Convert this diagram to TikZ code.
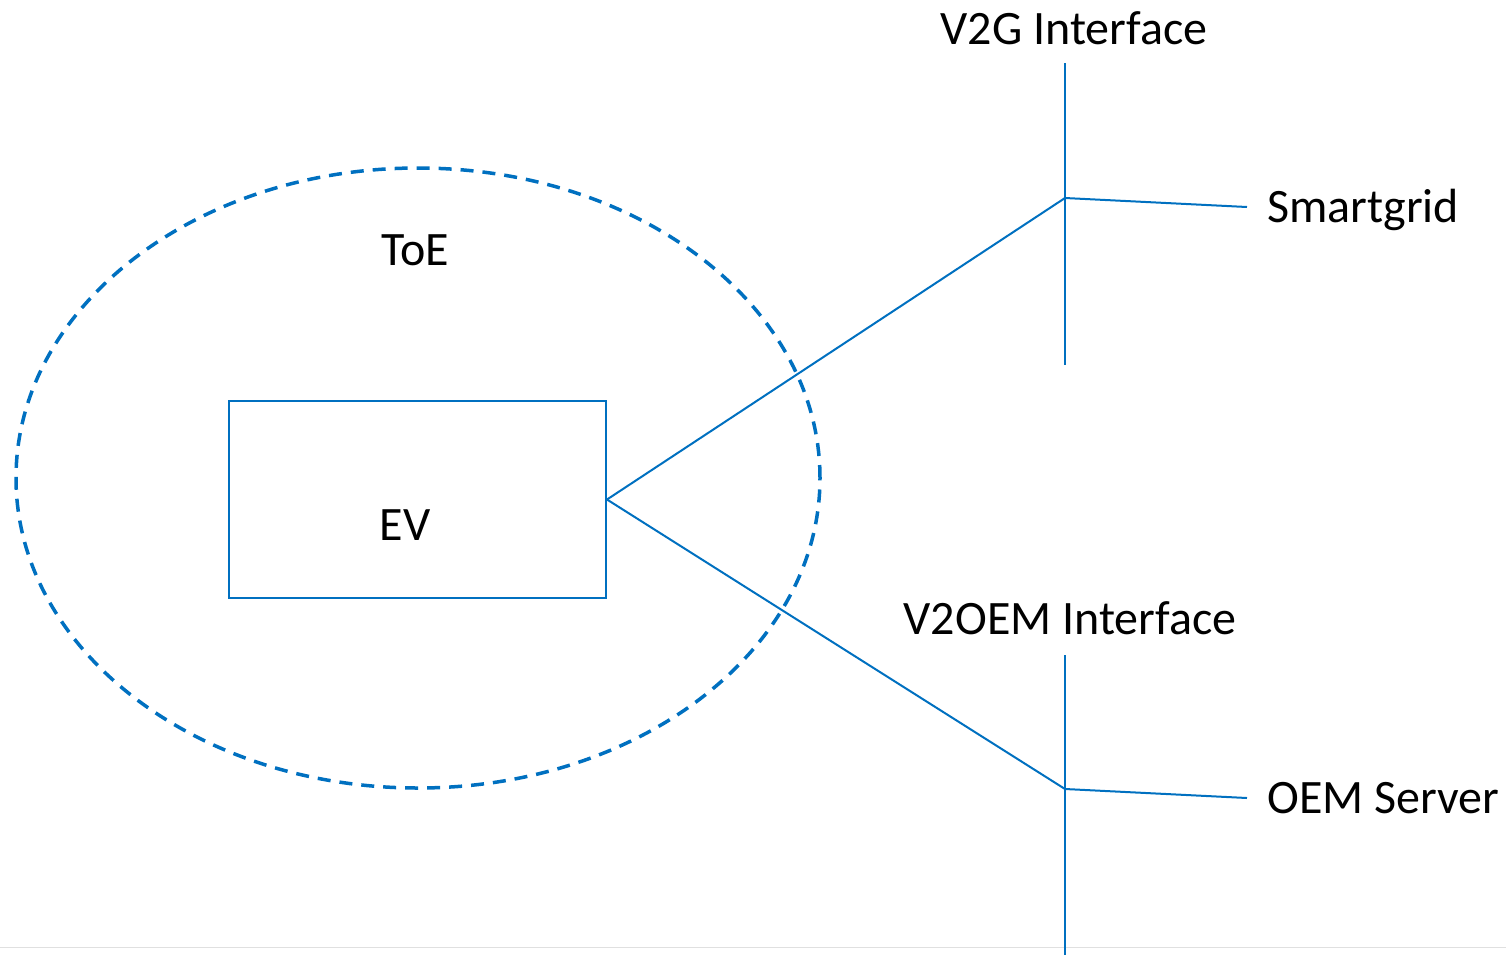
\documentclass[tikz,border=0pt]{standalone}
\usepackage{fontspec}
\setmainfont{Carlito}
\definecolor{linkblue}{HTML}{0070C0}
\begin{document}
\begin{tikzpicture}[x=0.5pt, y=-0.5pt, wire/.style={draw=linkblue, line width=1pt},
  big text/.style={font=\fontsize{24}{28}\selectfont, inner sep=0pt},
  end text/.style={big text, anchor=west, inner xsep=10pt, text height=20pt, text depth=5pt}]%y grows downward
\useasboundingbox (0,0) rectangle (1506,955);
\draw[black!12, line width=0.5pt] (0,947) -- (1506,947);
% target of evaluation
\draw[wire, line width=1.75pt, dash pattern=on 6.5pt off 4.5pt] (418,478) ellipse [x radius=201pt, y radius=155pt];
\begin{scope}[every node/.style={big text}]
\node (toe) at (415,250) {ToE};
\node[wire, draw, minimum width=188.5pt, minimum height=98.5pt] (ev) at (417.5,499.5) {};
\node (evlabel) at (405,525) {EV};
\node (v2g) at (1074,28) {V2G Interface};
\node (v2oem) at (1070,618) {V2OEM Interface};
\node[end text] (grid) at (1247,207) {Smartgrid};
\node[end text] (oem) at (1247,798) {OEM Server};
\end{scope}
\coordinate (g1) at (1065,198);
\coordinate (g2) at (1065,789);
\coordinate (g1top) at (1065,63);
\coordinate (g1bot) at (1065,365);
\coordinate (g2top) at (1065,655);
\coordinate (g2bot) at (1065,955);
\begin{scope}[every path/.style={wire}]
\draw (g1top) -- (g1bot);
\draw (g2top) -- (g2bot);
\draw (ev.east) -- (g1) -- (grid.west);
\draw (ev.east) -- (g2) -- (oem.west);
\end{scope}
\end{tikzpicture}
\end{document}
